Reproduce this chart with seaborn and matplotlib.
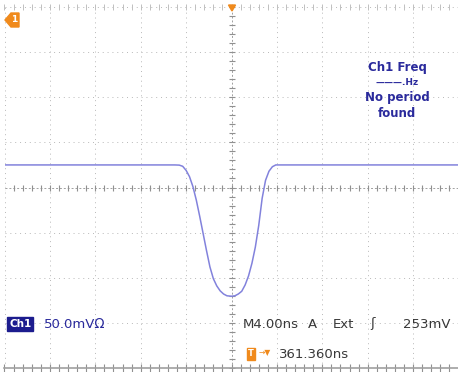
import numpy as np
import pandas as pd
import seaborn as sns
import matplotlib.pyplot as plt
from matplotlib.patches import Polygon

# trace: time (ns) vs voltage (mV) relative to screen centre
time_ns = [-20.0, -5.0, -4.6, -4.3, -4.0, -3.7, -3.4, -3.1, -2.8, -2.5, -2.2, -1.9,
           -1.6, -1.3, -1.0, -0.7, -0.4, 0.0, 0.3, 0.6, 0.9, 1.2, 1.5, 1.8, 2.1,
           2.4, 2.7, 3.0, 3.3, 3.6, 3.9, 4.3, 20.0]
volt_mv = [25, 25, 24.8, 23.5, 19, 12, 1, -14, -32, -51, -70, -88,
           -101, -109, -114.5, -118, -120, -120.5, -120, -118, -115, -108, -98, -84, -66,
           -42, -12, 8, 18, 23, 25, 25, 25]

ns_per_div = 4.0
mv_per_div = 50.0
n_xdiv = 10
n_ydiv = 8

freq_lines = ["Ch1 Freq", "\u2014\u2014\u2014.Hz", "No period", "found"]
ch_scale = "50.0mV\u2126"
timebase = ["M4.00ns", "A", "Ext", "\u0283", "253mV"]
timebase_x = [243, 308, 333, 370, 403]
trig_pos = "361.360ns"

trace = pd.DataFrame({"t": time_ns, "v": volt_mv})

sns.set_style("white")
plt.rcParams["font.family"] = ["DejaVu Sans"]

fig = plt.figure(figsize=(4.58, 3.72), dpi=100)
ax = fig.add_axes([4.5 / 458, 4 / 372, 454 / 458, 361 / 372])

xmax = ns_per_div * n_xdiv / 2
ymax = mv_per_div * n_ydiv / 2
ax.set_xlim(-xmax, xmax)
ax.set_ylim(-ymax, ymax)

grid_col = "#b8b8b8"
# dotted graticule
for i in range(-n_xdiv // 2 + 1, n_xdiv // 2):
    if i != 0:
        ax.axvline(i * ns_per_div, color=grid_col, lw=0.7, ls=(0, (1, 4)))
for j in range(-n_ydiv // 2 + 1, n_ydiv // 2):
    if j != 0:
        ax.axhline(j * mv_per_div, color=grid_col, lw=0.7, ls=(0, (1, 4)))
ax.axhline(ymax * 0.999, color=grid_col, lw=0.7, ls=(0, (1, 4)))
ax.axvline(-xmax * 0.999, color=grid_col, lw=0.7, ls=(0, (1, 4)))

# centre cross with minor ticks
ax.axvline(0, color="#a0a0a0", lw=0.7, ls=(0, (2, 2)))
ax.axhline(0, color="#a0a0a0", lw=0.7, ls=(0, (2, 2)))
mx = np.arange(-xmax, xmax + 0.01, ns_per_div / 5)
my = np.arange(-ymax, ymax + 0.01, mv_per_div / 5)
ax.plot(mx, np.zeros_like(mx), ls="none", marker="|", ms=5, mew=0.8, color="#909090")
ax.plot(np.zeros_like(my), my, ls="none", marker="_", ms=5, mew=0.8, color="#909090")
# edge ticks
ax.plot(mx, np.full_like(mx, -ymax), ls="none", marker="|", ms=6, mew=0.8, color="#909090", clip_on=False)
ax.plot(mx, np.full_like(mx, ymax), ls="none", marker="|", ms=4, mew=0.7, color="#c0c0c0", clip_on=False)

for side in ["top", "left", "right"]:
    ax.spines[side].set_visible(False)
ax.spines["bottom"].set_color("#a0a0a0")
ax.spines["bottom"].set_linewidth(1.2)
ax.set_xticks([])
ax.set_yticks([])
ax.set_xlabel("")
ax.set_ylabel("")

sns.lineplot(data=trace, x="t", y="v", ax=ax, color="#8282dc", lw=1.1, sort=False)

navy = "#2a2a9c"
orange = "#f08a1c"
dark = "#383838"

# Ch1 freq readout
for k, s in enumerate(freq_lines):
    fs = 6.5 if k == 1 else 8.5
    fig.text(397 / 458, 1 - (67 + k * 15.5) / 372, s, color=navy, fontsize=fs,
             ha="center", va="center", fontweight="bold")

# channel scale
fig.text(9 / 458, 1 - 324 / 372, "Ch1", color="white", fontsize=7.5, fontweight="bold",
         ha="left", va="center",
         bbox=dict(boxstyle="square,pad=0.15", fc="#1c1c8e", ec="#1c1c8e"))
fig.text(44 / 458, 1 - 324 / 372, ch_scale, color=navy, fontsize=9.5, ha="left", va="center")

for s, x in zip(timebase, timebase_x):
    fig.text(x / 458, 1 - 324 / 372, s, color=dark, fontsize=9.5, ha="left", va="center")

# trigger position
fig.text(248 / 458, 1 - 354 / 372, "T", color="white", fontsize=6, fontweight="bold",
         ha="left", va="center", bbox=dict(boxstyle="square,pad=0.15", fc=orange, ec=orange))
fig.text(259 / 458, 1 - 353 / 372, "\u2192\u25bc", color=orange, fontsize=5.5, ha="left", va="center")
fig.text(279 / 458, 1 - 354 / 372, trig_pos, color=dark, fontsize=9.5, ha="left", va="center")

# channel 1 marker (top left)
fig.patches.append(Polygon([[5 / 458, 1 - 20 / 372], [11 / 458, 1 - 13 / 372], [19 / 458, 1 - 13 / 372],
                            [19 / 458, 1 - 27 / 372], [11 / 458, 1 - 27 / 372]],
                           closed=True, fc=orange, ec=orange, transform=fig.transFigure))
fig.text(14.5 / 458, 1 - 20 / 372, "1", color="white", fontsize=6.5, fontweight="bold",
         ha="center", va="center")

# trigger marker (top centre)
fig.patches.append(Polygon([[228.5 / 458, 1 - 5 / 372], [235.5 / 458, 1 - 5 / 372], [232 / 458, 1 - 11 / 372]],
                           closed=True, fc=orange, ec=orange, transform=fig.transFigure))

fig.savefig("out.png", dpi=100)
